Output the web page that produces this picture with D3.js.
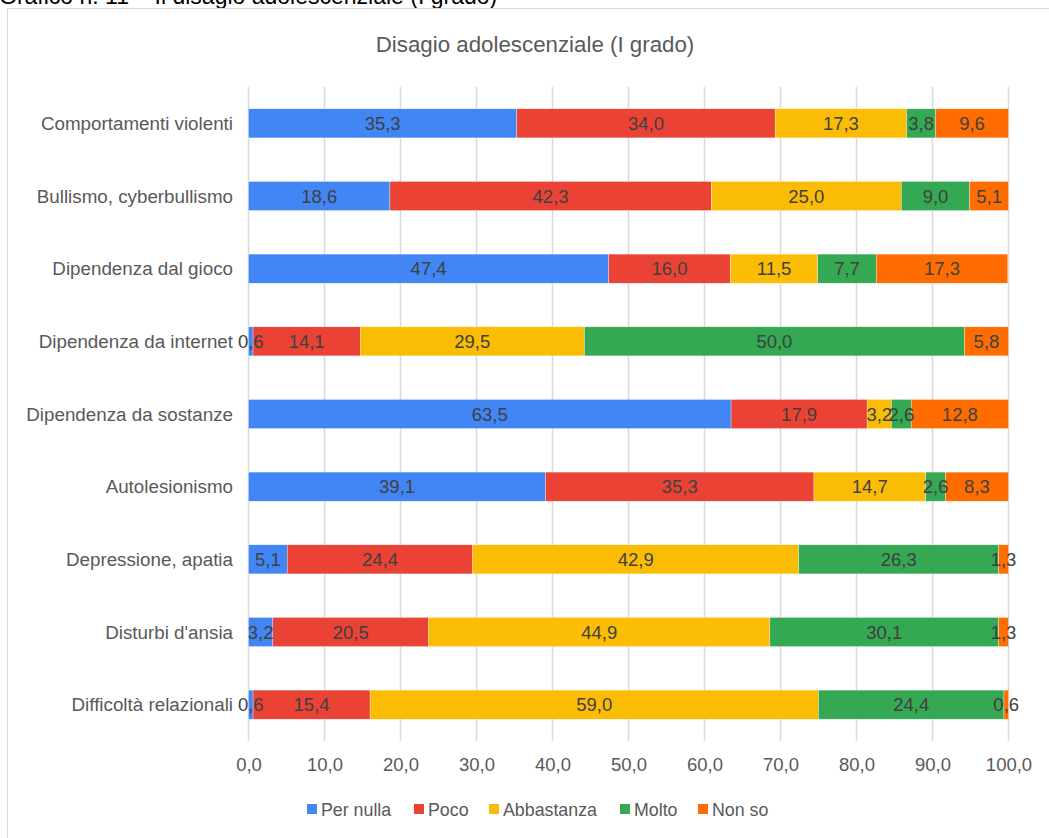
<!DOCTYPE html>
<html><head><meta charset="utf-8">
<script src="https://cdn.jsdelivr.net/npm/d3@7"></script>
<style>body{margin:0;background:#fff;}svg{display:block;}</style>
</head><body>
<script>
const categories = ["Comportamenti violenti","Bullismo, cyberbullismo","Dipendenza dal gioco","Dipendenza da internet","Dipendenza da sostanze","Autolesionismo","Depressione, apatia","Disturbi d'ansia","Difficoltà relazionali"];
const seriesNames = ["Per nulla","Poco","Abbastanza","Molto","Non so"];
const perNulla   = [35.3,18.6,47.4,0.6,63.5,39.1,5.1,3.2,0.6];
const poco       = [34.0,42.3,16.0,14.1,17.9,35.3,24.4,20.5,15.4];
const abbastanza = [17.3,25.0,11.5,29.5,3.2,14.7,42.9,44.9,59.0];
const molto      = [3.8,9.0,7.7,50.0,2.6,2.6,26.3,30.1,24.4];
const nonSo      = [9.6,5.1,17.3,5.8,12.8,8.3,1.3,1.3,0.6];
const xTicks = [0,10,20,30,40,50,60,70,80,90,100];
const colors = ["#4285F4","#EA4335","#FBBC04","#34A853","#FF6D01"];

const W=1049,H=838;
const svg=d3.select("body").append("svg").attr("width",W).attr("height",H);
const sans = "'Liberation Sans',Arial,sans-serif";

// cut-off heading above the chart
svg.append("text").attr("x",-1).attr("y",3.5).attr("font-family",sans).attr("font-size",23)
  .attr("fill","#000").text("Grafico n. 11 – Il disagio adolescenziale (I grado)");

// chart box
svg.append("rect").attr("x",7.5).attr("y",8.5).attr("width",1060).attr("height",850)
  .attr("fill","#fff").attr("stroke","#d9d9d9").attr("stroke-width",1);

svg.append("text").attr("x",535).attr("y",52).attr("text-anchor","middle")
  .attr("font-family",sans).attr("font-size",22.3).attr("fill","#595959")
  .text("Disagio adolescenziale (I grado)");

const x=d3.scaleLinear().domain([0,100]).range([248.5,1008.5]);
const y=d3.scaleBand().domain(categories).range([87,741]).paddingInner(0.6).paddingOuter(0.3);

// grid
svg.append("g").selectAll("line").data(xTicks).join("line")
  .attr("x1",d=>x(d)).attr("x2",d=>x(d)).attr("y1",87).attr("y2",741)
  .attr("stroke","#d9d9d9").attr("stroke-width",1.5);

const data = categories.map((c,i)=>({cat:c,"Per nulla":perNulla[i],"Poco":poco[i],"Abbastanza":abbastanza[i],"Molto":molto[i],"Non so":nonSo[i]}));
const stack=d3.stack().keys(seriesNames)(data);

const g=svg.append("g");
stack.forEach((s,si)=>{
  g.selectAll(null).data(s).join("rect")
    .attr("x",d=>x(d[0])).attr("width",d=>x(d[1])-x(d[0]))
    .attr("y",d=>y(d.data.cat)).attr("height",y.bandwidth())
    .attr("fill",colors[si]).attr("stroke","#fff").attr("stroke-width",0.5).attr("stroke-opacity",0.6);
});
stack.forEach((s,si)=>{
  g.selectAll(null).data(s).join("text")
    .attr("x",d=>(x(d[0])+x(d[1]))/2).attr("y",d=>y(d.data.cat)+y.bandwidth()/2+6.5)
    .attr("text-anchor","middle").attr("font-family",sans).attr("font-size",18.5).attr("fill","#404040")
    .text(d=>d3.format(".1f")(d[1]-d[0]).replace(".",","));
});

// category axis labels
svg.append("g").selectAll("text").data(categories).join("text")
  .attr("x",233).attr("y",d=>y(d)+y.bandwidth()/2+6.5).attr("text-anchor","end")
  .attr("font-family",sans).attr("font-size",18.8).attr("fill","#595959").text(d=>d);

// x tick labels
const xa=svg.append("g").attr("transform","translate(0,741)")
  .call(d3.axisBottom(x).tickValues(xTicks).tickSize(0).tickPadding(16.5).tickFormat(d=>d3.format(".1f")(d).replace(".",",")));
xa.select(".domain").remove();
xa.selectAll("text").attr("font-family",sans).attr("font-size",18.5).attr("fill","#595959");

// legend
const legX=[307,414,489,620,698];
const lg=svg.append("g");
seriesNames.forEach((n,i)=>{
  lg.append("rect").attr("x",legX[i]).attr("y",804).attr("width",10).attr("height",10).attr("fill",colors[i]);
  lg.append("text").attr("x",legX[i]+14).attr("y",816).attr("font-family",sans).attr("font-size",17.8).attr("fill","#595959").text(n);
});
</script>
</body></html>
